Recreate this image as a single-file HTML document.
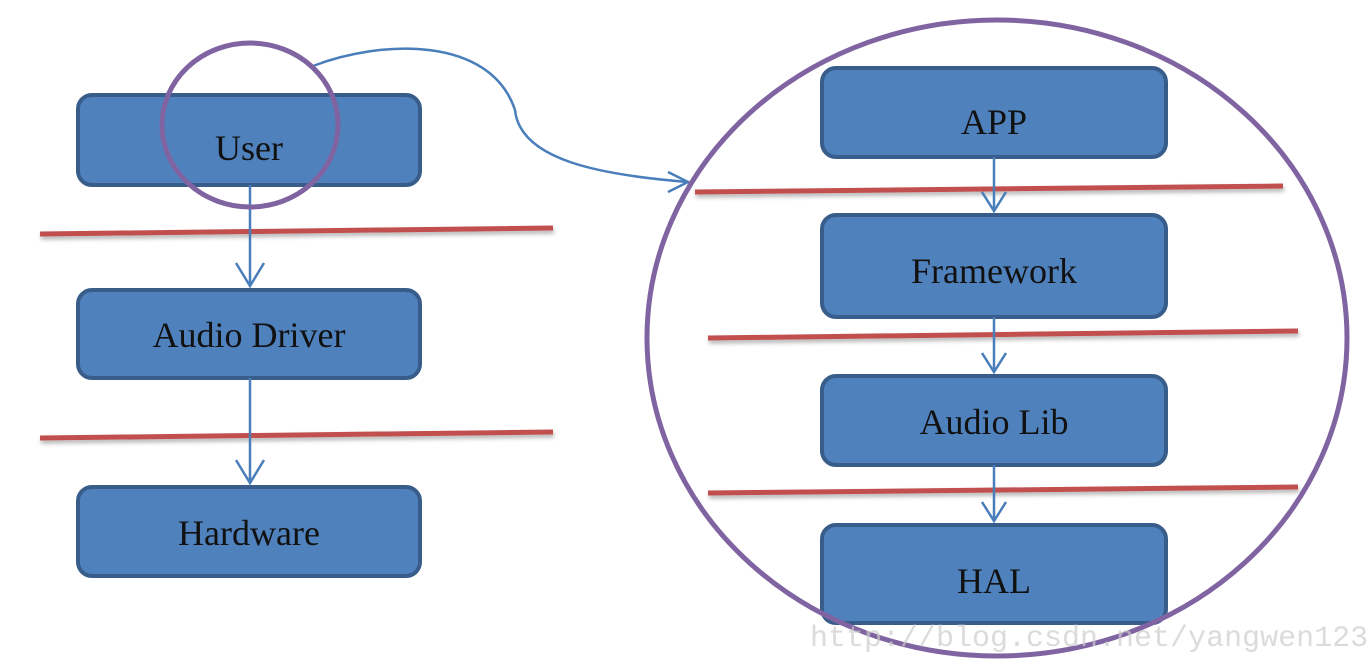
<!DOCTYPE html>
<html><head><style>body{margin:0;background:#fff}svg{display:block}</style></head><body>
<svg width="1369" height="670" xmlns="http://www.w3.org/2000/svg" font-family="Liberation Serif, serif">
<defs><filter id="s"><feDropShadow dx="1" dy="3" stdDeviation="2" flood-opacity="0.3"/></filter></defs>
<g stroke="#c0504d" stroke-width="5" filter="url(#s)">
<line x1="40" y1="234" x2="553" y2="228"/>
<line x1="40" y1="438" x2="553" y2="432"/>
<line x1="695" y1="192" x2="1283" y2="186"/>
<line x1="708" y1="338" x2="1298" y2="331"/>
<line x1="708" y1="493" x2="1298" y2="487"/>
</g>
<g fill="#4f81bd" stroke="#385d8a" stroke-width="4">
<rect x="78" y="95" width="342" height="90" rx="14"/>
<rect x="78" y="290" width="342" height="88" rx="14"/>
<rect x="78" y="487" width="342" height="89" rx="14"/>
<rect x="822" y="68" width="344" height="89" rx="14"/>
<rect x="822" y="215" width="344" height="102" rx="14"/>
<rect x="822" y="376" width="344" height="89" rx="14"/>
<rect x="822" y="525" width="344" height="98" rx="14"/>
</g>
<g font-size="36" fill="#111" text-anchor="middle">
<text x="249" y="160">User</text>
<text x="249" y="347">Audio Driver</text>
<text x="249" y="545">Hardware</text>
<text x="994" y="134">APP</text>
<text x="994" y="283">Framework</text>
<text x="994" y="434">Audio Lib</text>
<text x="994" y="593">HAL</text>
</g>
<g stroke="#4a7ebb" stroke-width="2.5" fill="none">
<line x1="250" y1="185" x2="250" y2="286"/><polyline points="236,263 250,286 264,263"/>
<line x1="250" y1="378" x2="250" y2="483"/><polyline points="236,460 250,483 264,460"/>
<line x1="994" y1="157" x2="994" y2="211"/><polyline points="982,192 994,211 1006,192"/>
<line x1="994" y1="317" x2="994" y2="372"/><polyline points="982,353 994,372 1006,353"/>
<line x1="994" y1="465" x2="994" y2="521"/><polyline points="982,502 994,521 1006,502"/>
<path d="M313,66 C380,40 490,35 515,110 C520,160 600,175 688,182"/>
<polyline points="668,172 688,182 668,192"/>
</g>
<g stroke="#8064a2" stroke-width="5" fill="none">
<ellipse cx="250" cy="125" rx="88" ry="82"/>
<ellipse cx="997" cy="338" rx="350" ry="318"/>
</g>
<text x="810" y="646" font-family="Liberation Mono, monospace" font-size="30" fill="#ccc" fill-opacity="0.7">http://blog.csdn.net/yangwen123</text>
</svg>
</body></html>
